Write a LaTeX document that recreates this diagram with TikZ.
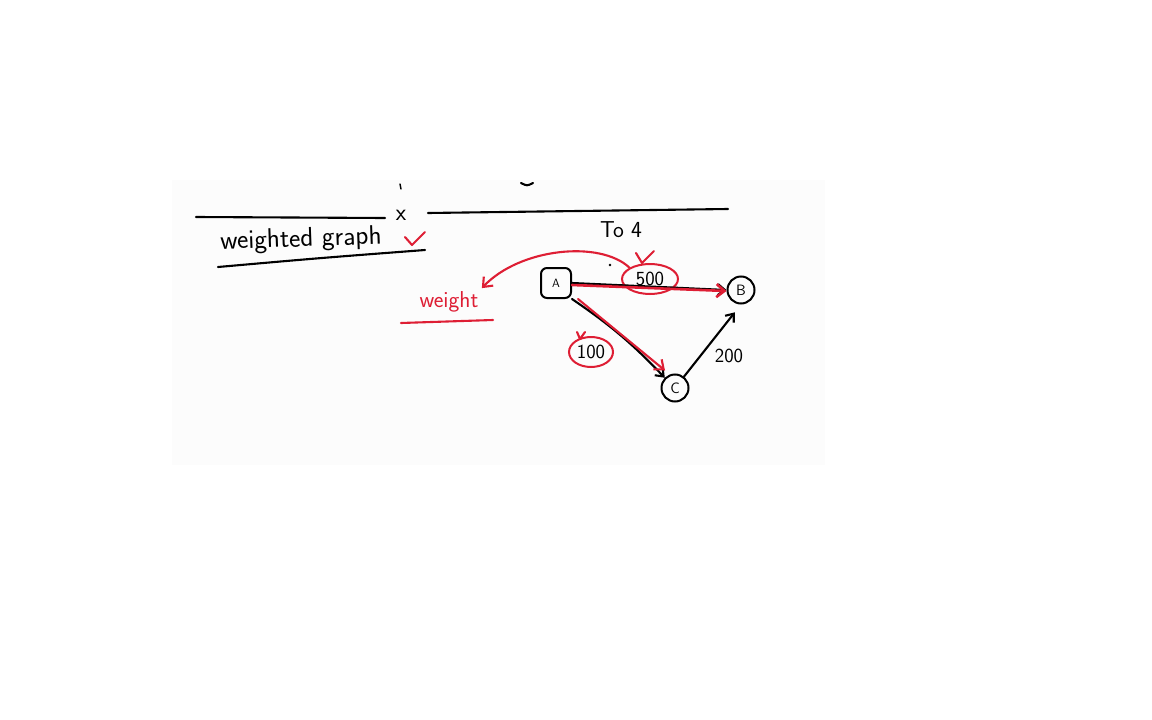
\documentclass[tikz,border=0pt]{standalone}
\usepackage{xcolor}
\usepackage{tikz}
\usetikzlibrary{arrows.meta, positioning, shapes.geometric, calc}

\definecolor{penred}{RGB}{222,30,52}

\begin{document}
\begin{tikzpicture}[
    x=1pt, y=-1pt,
    every node/.style={font=\sffamily},
    ink/.style={draw=black, line width=2.1pt, line cap=round, line join=round},
    redink/.style={draw=penred, line width=2.1pt, line cap=round, line join=round},
    vertex/.style={circle, draw, line width=2pt, minimum size=27pt, inner sep=0pt,
                   font=\sffamily\fontsize{15}{15}\selectfont},
    boxvertex/.style={rectangle, rounded corners=6pt, draw, line width=2pt,
                      minimum size=30pt, inner sep=0pt, font=\sffamily\fontsize{12}{12}\selectfont},
    weightlabel/.style={font=\sffamily\fontsize{20}{20}\selectfont},
    bubble/.style={ellipse, draw=penred, line width=2pt, inner sep=1pt},
    arrow/.style={ink, -{Straight Barb[length=7pt, width=11pt]}},
    redarrow/.style={redink, -{Straight Barb[length=8pt, width=13pt]}}
]

\useasboundingbox[fill=white] (0,0) rectangle (1152,720);
\fill[black!1] (172,180) rectangle (825,465);

% Heading
\draw[ink, line width=1.4pt] (400,184) -- (401,189);
\draw[ink] (521,183) .. controls (527,186) .. (533,183);
\draw[ink] (196,217) -- (385,218);
\draw[ink] (428,213) -- (728,209);
\node[rotate=2, font=\sffamily\fontsize{27}{27}\selectfont] (title) at (301,240) {weighted graph};
\node[font=\sffamily\fontsize{24}{24}\selectfont] (cross) at (401,215) {x};
\draw[redink] (405,237) -- (412,245) -- (425,232);
\draw[ink] (218,267) .. controls (320,258) .. (425,250);
\node[font=\sffamily\fontsize{23}{23}\selectfont] (to4) at (621,230) {To 4};

% Vertices
\node[boxvertex] (A) at (556,283) {A};
\node[vertex] (B) at (741,290) {B};
\node[vertex] (C) at (675,388) {C};

% Weights
\node[bubble, weightlabel, minimum width=56pt, minimum height=30pt] (w500) at (650,279) {500};
\node[bubble, weightlabel, minimum width=44pt, minimum height=30pt] (w100) at (591,352) {100};
\node[weightlabel] (w200) at (729,356) {200};
\node[text=penred, font=\sffamily\fontsize{23}{23}\selectfont] (weight) at (449,302) {weight};
\fill (610,265) circle (1.3pt);

% Edges
\draw[arrow] (A.east) -- (B.west);
\draw[redarrow, line width=2.6pt] ([yshift=-2pt]A.east) -- ([yshift=-1pt]B.west);
\draw[arrow] (A.south east) to[bend left=6] (C.north west);
\draw[redarrow] ([xshift=6pt]A.south east) -- ([xshift=-10pt,yshift=3pt]C.north);
\draw[arrow, shorten >=10pt] (C) -- (B.south);

% Red notes
\draw[redink] ($(w500.north)+(-14,-10)$) -- ($(w500.north)+(-8,0)$) -- ($(w500.north)+(4,-12)$);
\draw[redink] ($(w100.north)+(-14,-4)$) -- ($(w100.north)+(-11,3)$) -- ($(w100.north)+(-6,-4)$);
\draw[redarrow] (w500.north west) .. controls (600,240) and (520,248) .. (weight.north east);
\draw[redink] (401,323) -- (493,320);

\end{tikzpicture}
\end{document}
